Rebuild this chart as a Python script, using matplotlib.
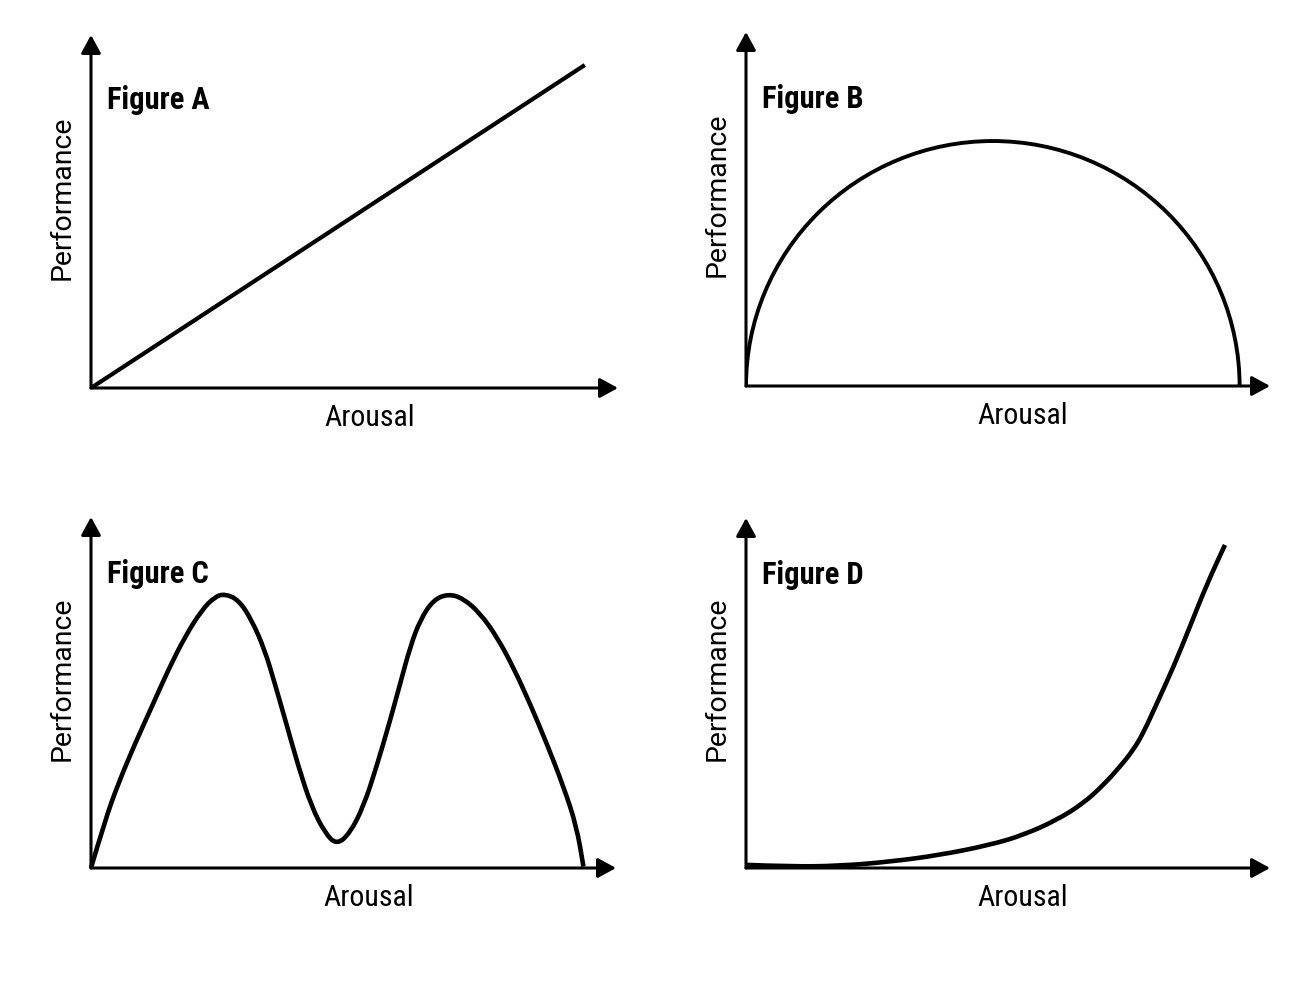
import matplotlib
matplotlib.use("Agg")
import matplotlib.pyplot as plt
from matplotlib import font_manager
from matplotlib.patches import Arc, ArrowStyle, PathPatch
from matplotlib.path import Path

# fonts: condensed Roboto if there, plain Roboto otherwise
names = {f.name for f in font_manager.fontManager.ttflist}
cond = next(n for n in ["Roboto Condensed", "Roboto", "DejaVu Sans"] if n in names)
plain = "Roboto" if "Roboto" in names else "DejaVu Sans"

W, H = 1316, 996

panel_titles = ["Figure A", "Figure B", "Figure C", "Figure D"]
x_label = "Arousal"
y_label = "Performance"

# Figure A: straight line, start and end
a_x = [0.0, 0.937]
a_y = [0.0, 0.915]

# Figure B: half ellipse (centre x, half width, height)
b_center = 0.471
b_halfwidth = 0.471
b_height = 0.692

# Figure C: two humps
c_x = [0.0, 0.027, 0.052, 0.084, 0.116, 0.147, 0.179, 0.211, 0.236, 0.255, 0.281,
       0.306, 0.331, 0.350, 0.370, 0.395, 0.420, 0.446, 0.468, 0.493, 0.519, 0.544,
       0.570, 0.589, 0.608, 0.627, 0.652, 0.681, 0.709, 0.741, 0.773, 0.804, 0.836,
       0.868, 0.900, 0.925, 0.938]
c_y = [0.0, 0.137, 0.241, 0.355, 0.460, 0.564, 0.659, 0.735, 0.773, 0.781, 0.764,
       0.707, 0.621, 0.526, 0.422, 0.289, 0.175, 0.099, 0.066, 0.099, 0.175, 0.289,
       0.422, 0.526, 0.630, 0.707, 0.764, 0.781, 0.768, 0.726, 0.659, 0.573, 0.469,
       0.355, 0.232, 0.118, 0.004]

# Figure D: flat then steep
d_x = [0.0, 0.084, 0.179, 0.275, 0.370, 0.466, 0.529, 0.593, 0.644, 0.682, 0.714,
       0.739, 0.758, 0.784, 0.816, 0.847, 0.879, 0.914]
d_y = [0.009, 0.004, 0.006, 0.018, 0.037, 0.066, 0.094, 0.137, 0.185, 0.237, 0.290,
       0.337, 0.385, 0.470, 0.575, 0.689, 0.809, 0.923]

# panel frames in pixels: origin x, origin y, arrow tip x, arrow tip y
frames = [(91, 388, 618, 35), (746, 386, 1270, 32),
          (91, 868, 616, 517), (746, 868, 1270, 518)]
title_y = [0.815, 0.810, 0.838, 0.838]


def smooth_path(xs, ys):
    # read points used as quadratic bezier controls, so the stroke has no corners
    pts = list(zip(xs, ys))
    verts = [pts[0]]
    codes = [Path.MOVETO]
    for i in range(1, len(pts) - 1):
        mid = ((pts[i][0] + pts[i + 1][0]) / 2, (pts[i][1] + pts[i + 1][1]) / 2)
        verts += [pts[i], mid]
        codes += [Path.CURVE3, Path.CURVE3]
    verts.append(pts[-1])
    codes.append(Path.LINETO)
    return Path(verts, codes)


fig = plt.figure(figsize=(W / 100, H / 100), dpi=100)
fig.patch.set_facecolor("white")

head = ArrowStyle("-|>", head_length=0.55, head_width=0.3)
axes = []
for (ox, oy, tx, ty), title, ty_frac in zip(frames, panel_titles, title_y):
    ax = fig.add_axes([ox / W, 1 - oy / H, (tx - ox) / W, (oy - ty) / H])
    ax.set_xlim(0, 1)
    ax.set_ylim(0, 1)
    ax.axis("off")
    for end in [(1, 0), (0, 1)]:
        ax.annotate("", xy=end, xytext=(0, 0), xycoords="axes fraction",
                    arrowprops=dict(arrowstyle=head, color="black", lw=2.2,
                                    mutation_scale=20, shrinkA=0, shrinkB=0))
    ax.annotate(x_label, xy=(0.528, 0), xycoords="axes fraction",
                xytext=(0, -30), textcoords="offset pixels",
                ha="center", va="center", fontsize=21.5, family=cond)
    ax.annotate(y_label, xy=(0, 0.54), xycoords="axes fraction",
                xytext=(-29, 0), textcoords="offset pixels", rotation=90,
                ha="center", va="center", fontsize=20.5, family=plain)
    ax.annotate(title, xy=(0, ty_frac), xycoords="axes fraction",
                xytext=(16, 0), textcoords="offset pixels",
                ha="left", va="center", fontsize=22, fontweight="bold", family=cond)
    axes.append(ax)

axes[0].plot(a_x, a_y, color="black", lw=3, solid_capstyle="butt", clip_on=False)
axes[1].add_patch(Arc((b_center, 0), 2 * b_halfwidth, 2 * b_height,
                      theta1=0, theta2=180, color="black", lw=2.8))
axes[2].add_patch(PathPatch(smooth_path(c_x, c_y), fill=False, edgecolor="black",
                            lw=3.3, joinstyle="round", clip_on=False))
axes[3].add_patch(PathPatch(smooth_path(d_x, d_y), fill=False, edgecolor="black",
                            lw=3.3, joinstyle="round", clip_on=False))

fig.savefig("out.png", dpi=100, facecolor="white")
